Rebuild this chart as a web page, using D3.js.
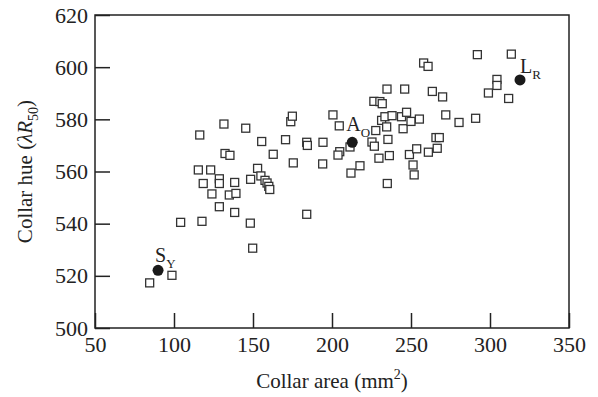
<!DOCTYPE html>
<html>
<head>
<meta charset="utf-8">
<script src="https://cdn.jsdelivr.net/npm/d3@7"></script>
<style>
  body { margin: 0; background: #fff; }
  svg { display: block; }
  text { font-family: "Liberation Serif", "Times New Roman", serif; fill: #222; }
</style>
</head>
<body>
<svg id="chart" width="598" height="397"></svg>
<script>
// collar area (mm^2) and collar hue (lambda R50) for each square
const areaValues = [
  84.6, 98.7, 104.2, 117.7, 115.4, 123.2, 116.3, 118.5, 124.0, 128.7,
  128.7, 128.7, 131.6, 132.3, 135.4, 135.0, 139.2, 138.4, 138.4, 145.4,
  148.5, 148.3, 149.8, 152.9, 155.5, 155.0, 157.6, 158.9, 160.0, 160.6,
  162.8, 170.6, 173.9, 174.9, 175.5, 184.0, 184.4, 184.0, 194.3, 194.1,
  200.6, 204.6, 204.9, 203.8, 211.4, 217.7, 212.0, 225.3, 226.8, 227.7,
  226.5, 230.3, 231.8, 229.7, 231.4, 233.5, 234.6, 234.8, 235.4, 236.3,
  235.0, 238.0, 244.0, 247.2, 245.0, 246.0, 249.0, 253.6, 250.0, 255.3,
  251.3, 252.0, 258.0, 260.8, 261.0, 266.6, 265.8, 267.9, 263.5, 270.0,
  272.0, 280.4, 290.9, 292.0, 299.0, 304.4, 304.4, 311.8, 313.5
];
const hueValues = [
  517.3, 520.2, 540.5, 540.9, 560.6, 560.6, 574.0, 555.4, 551.4, 557.2,
  555.4, 546.5, 578.2, 566.9, 566.2, 551.0, 551.6, 555.8, 544.3, 576.6,
  557.0, 540.2, 530.6, 561.2, 571.5, 558.3, 556.6, 555.6, 554.3, 553.1,
  566.6, 572.2, 579.1, 581.2, 563.3, 571.2, 570.0, 543.6, 571.2, 562.9,
  581.7, 577.5, 567.6, 566.3, 569.4, 562.2, 559.4, 571.3, 569.7, 575.7,
  586.9, 586.8, 586.0, 565.1, 579.6, 581.0, 577.1, 591.6, 572.3, 566.1,
  555.4, 581.4, 581.0, 582.7, 576.4, 591.6, 566.5, 568.7, 579.2, 580.1,
  562.5, 558.7, 601.6, 600.3, 567.4, 568.9, 573.0, 573.0, 590.7, 588.6,
  581.7, 578.8, 580.4, 604.8, 590.1, 595.3, 593.0, 588.0, 605.0
];

// highlighted species (filled circles)
const namedLetters = ["S", "A", "L"];
const namedSubs = ["Y", "O", "R"];
const namedArea = [89.9, 212.8, 319.0];
const namedHue = [522.1, 571.2, 595.1];

const xTicks = [50, 100, 150, 200, 250, 300, 350];
const yTicks = [500, 520, 540, 560, 580, 600, 620];

const squares = areaValues.map((a, i) => ({ x: a, y: hueValues[i] }));
const named = namedLetters.map((l, i) => ({ letter: l, sub: namedSubs[i], x: namedArea[i], y: namedHue[i] }));

const m = { left: 95, right: 569, top: 15, bottom: 328 };

const x = d3.scaleLinear().domain([50, 350]).range([m.left, m.right]);
const y = d3.scaleLinear().domain([500, 620]).range([m.bottom, m.top]);

const svg = d3.select("#chart");

// y axis, ticks pointing inward
svg.append("g")
  .attr("transform", `translate(${m.left},0)`)
  .call(d3.axisLeft(y).tickValues(yTicks).tickSizeInner(-15).tickSizeOuter(0).tickPadding(7))
  .call(g => g.select(".domain").remove())
  .call(g => g.selectAll("line").attr("stroke", "#222").attr("stroke-width", 1.5))
  .call(g => g.selectAll("text").attr("font-size", 22).attr("fill", "#222"));

svg.append("g")
  .attr("transform", `translate(0,${m.bottom})`)
  .call(d3.axisBottom(x).tickValues(xTicks).tickSizeInner(-15).tickSizeOuter(0).tickPadding(8))
  .call(g => g.select(".domain").remove())
  .call(g => g.selectAll("line").attr("stroke", "#222").attr("stroke-width", 1.5))
  .call(g => g.selectAll("text").attr("font-size", 22).attr("fill", "#222"));

// frame
svg.append("rect")
  .attr("x", m.left)
  .attr("y", m.top)
  .attr("width", m.right - m.left)
  .attr("height", m.bottom - m.top)
  .attr("fill", "none")
  .attr("stroke", "#222")
  .attr("stroke-width", 1.5);

svg.append("g")
  .selectAll("rect")
  .data(squares)
  .join("rect")
  .attr("x", d => x(d.x) - 4)
  .attr("y", d => y(d.y) - 4)
  .attr("width", 8)
  .attr("height", 8)
  .attr("fill", "#fff")
  .attr("stroke", "#333")
  .attr("stroke-width", 1.3);

svg.append("g")
  .selectAll("circle")
  .data(named)
  .join("circle")
  .attr("cx", d => x(d.x))
  .attr("cy", d => y(d.y))
  .attr("r", 5.5)
  .attr("fill", "#1a1a1a");

// label offsets from the dot: [dx, dy] of the letter baseline
const labelOffset = { S: [-3, -8], A: [-6, -11], L: [0, -7] };

const lab = svg.append("g")
  .selectAll("text")
  .data(named)
  .join("text")
  .attr("x", d => x(d.x) + labelOffset[d.letter][0])
  .attr("y", d => y(d.y) + labelOffset[d.letter][1])
  .attr("font-size", 20);

lab.append("tspan").text(d => d.letter);
lab.append("tspan")
  .attr("font-size", 13)
  .attr("dy", 6)
  .text(d => d.sub);

// axis titles
const xt = svg.append("text")
  .attr("x", (m.left + m.right) / 2)
  .attr("y", 388)
  .attr("text-anchor", "middle")
  .attr("font-size", 21);
xt.append("tspan").text("Collar area (mm");
xt.append("tspan").attr("font-size", 14).attr("dy", -9).text("2");
xt.append("tspan").attr("dy", 9).text(")");

const yt = svg.append("text")
  .attr("transform", `translate(32,${(m.top + m.bottom) / 2}) rotate(-90)`)
  .attr("text-anchor", "middle")
  .attr("font-size", 21);
yt.append("tspan").text("Collar hue (");
yt.append("tspan").attr("font-style", "italic").text("λR");
yt.append("tspan").attr("font-size", 14).attr("dy", 6).text("50");
yt.append("tspan").attr("dy", -6).text(")");
</script>
</body>
</html>
